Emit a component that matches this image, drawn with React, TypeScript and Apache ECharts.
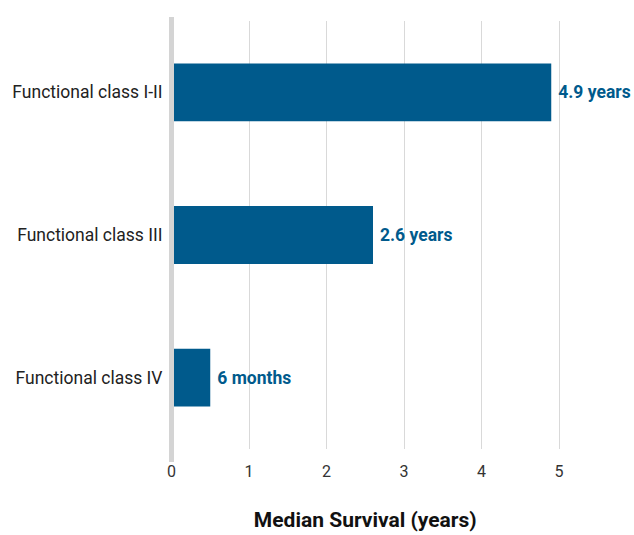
import React, { useEffect, useRef } from "react";
import * as echarts from "echarts";

const categories = ["Functional class I-II", "Functional class III", "Functional class IV"];
const values = [4.9, 2.6, 0.5];
const valueLabels = ["4.9 years", "2.6 years", "6 months"];
const xTicks = [0, 1, 2, 3, 4, 5];

export default function App() {
  const ref = useRef<HTMLDivElement>(null);
  useEffect(() => {
    if (!ref.current) return;
    const chart = echarts.init(ref.current, null, { renderer: "svg" });
    const font = "Roboto, 'Noto Sans', sans-serif";
    chart.setOption({
      animation: false,
      textStyle: { fontFamily: font },
      grid: { left: 171.5, right: 75, top: 21, bottom: 78, containLabel: false },
      graphic: [
        {
          type: "rect",
          z: 100,
          shape: { x: 169, y: 17, width: 5, height: 445 },
          style: { fill: "#d4d4d4" },
        },
      ],
      xAxis: {
        type: "value",
        min: xTicks[0],
        max: xTicks[xTicks.length - 1],
        interval: 1,
        name: "Median Survival (years)",
        nameLocation: "middle",
        nameGap: 60,
        nameTextStyle: { fontSize: 21, fontWeight: "bold", color: "#111", fontFamily: font },
        axisLine: { show: false },
        axisTick: { show: false },
        axisLabel: { fontSize: 16, color: "#333", margin: 14, fontFamily: font },
        splitLine: { show: true, lineStyle: { color: "#d9d9d9", width: 1 } },
      },
      yAxis: {
        type: "category",
        data: categories,
        inverse: true,
        axisLine: { show: false },
        axisTick: { show: false },
        axisLabel: { fontSize: 17.5, color: "#222", margin: 9, fontFamily: font },
      },
      series: [
        {
          type: "bar",
          data: values,
          barWidth: "40.5%",
          itemStyle: { color: "#005a8c" },
          label: {
            show: true,
            position: "right",
            distance: 7,
            fontSize: 17.5,
            fontWeight: "bold",
            color: "#005a8c",
            fontFamily: font,
            formatter: (p: any) => valueLabels[p.dataIndex],
          },
        },
      ],
    });
    return () => chart.dispose();
  }, []);
  return (
    <div
      ref={ref}
      style={{ position: "absolute", left: 0, top: 0, width: 634, height: 535 }}
    />
  );
}
